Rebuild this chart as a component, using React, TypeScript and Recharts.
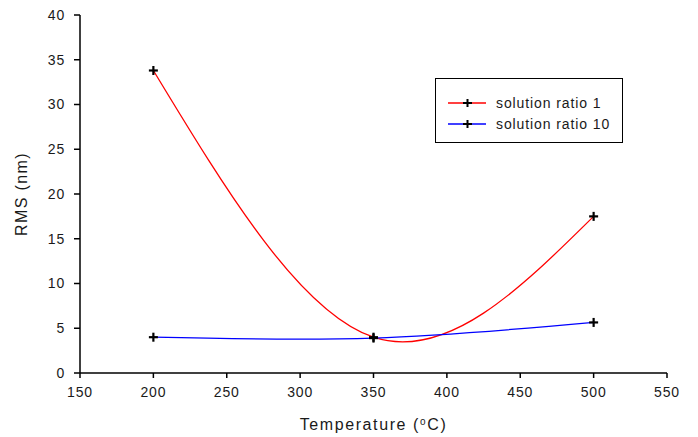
import { LineChart, Line, XAxis, YAxis } from 'recharts';

const temperatures = [200, 350, 500];
const ratio1 = [33.8, 4.0, 17.5];
const ratio10 = [4.0, 3.9, 5.65];
const xTicks = [150, 200, 250, 300, 350, 400, 450, 500, 550];
const yTicks = [0, 5, 10, 15, 20, 25, 30, 35, 40];

const seriesNames = ['solution ratio 1', 'solution ratio 10'];
const seriesColors = ['#ff0000', '#0000ff'];

const data = temperatures.map((t, i) => ({ t, r1: ratio1[i], r10: ratio10[i] }));

const FONT = '"Liberation Sans", Arial, sans-serif';
const TEXT = '#1a1a1a';

// black plus marker drawn at each data point
const PlusDot = (props: any) => {
  const { cx, cy } = props;
  if (cx == null || cy == null) return null;
  return (
    <g>
      <line x1={cx - 4.5} y1={cy} x2={cx + 4.5} y2={cy} stroke="#000" strokeWidth={2.2} />
      <line x1={cx} y1={cy - 4.5} x2={cx} y2={cy + 4.5} stroke="#000" strokeWidth={2.2} />
    </g>
  );
};

// legend box sits over the plot, it does not take space from it
const LegendBox = () => (
  <div
    style={{
      position: 'absolute',
      left: 435,
      top: 78,
      width: 188,
      height: 65,
      border: '1px solid #000',
      boxSizing: 'border-box',
      background: '#fff',
      fontFamily: FONT,
      fontSize: 14,
      letterSpacing: 0.9,
      color: TEXT,
    }}
  >
    {seriesNames.map((name, i) => (
      <div
        key={name}
        style={{ position: 'absolute', left: 0, top: 14 + i * 21, height: 20, display: 'flex', alignItems: 'center' }}
      >
        <svg width={60} height={12} style={{ display: 'block' }}>
          <line x1={12} y1={6} x2={50} y2={6} stroke={seriesColors[i]} strokeWidth={1.3} />
          <line x1={27} y1={6} x2={36} y2={6} stroke="#000" strokeWidth={2} />
          <line x1={31.5} y1={2} x2={31.5} y2={10} stroke="#000" strokeWidth={2} />
        </svg>
        <span style={{ whiteSpace: 'nowrap' }}>{name}</span>
      </div>
    ))}
  </div>
);

const XTitle = (props: any) => {
  const { viewBox } = props;
  const x = viewBox.x + viewBox.width / 2;
  const y = viewBox.y + 57;
  return (
    <text x={x} y={y} textAnchor="middle" fontFamily={FONT} fontSize={16} letterSpacing={1.6} fill={TEXT}>
      Temperature (
      <tspan baselineShift="super" fontSize={10}>o</tspan>
      <tspan>C)</tspan>
    </text>
  );
};

const YTitle = (props: any) => {
  const { viewBox } = props;
  const cy = viewBox.y + viewBox.height / 2;
  const cx = 27;
  return (
    <text
      x={cx}
      y={cy}
      textAnchor="middle"
      transform={`rotate(-90, ${cx}, ${cy})`}
      fontFamily={FONT}
      fontSize={16}
      letterSpacing={1.4}
      fill={TEXT}
    >
      RMS (nm)
    </text>
  );
};

const tickStyle = { fontSize: 14, fontFamily: FONT, fill: TEXT, letterSpacing: 0.8 };

export default function App() {
  return (
    <div style={{ position: 'absolute', left: 0, top: 0, width: 698, height: 437, background: '#fff' }}>
      <LineChart
        width={698}
        height={437}
        data={data}
        margin={{ top: 15, right: 31, left: 20, bottom: 0 }}
      >
        <XAxis
          dataKey="t"
          type="number"
          domain={[150, 550]}
          ticks={xTicks}
          interval={0}
          height={64}
          stroke="#000"
          strokeWidth={1.5}
          tickSize={5}
          tickMargin={9}
          tick={tickStyle}
          label={<XTitle />}
        />
        <YAxis
          type="number"
          domain={[0, 40]}
          ticks={yTicks}
          interval={0}
          width={60}
          stroke="#000"
          strokeWidth={1.5}
          tickSize={6}
          tickMargin={9}
          tick={tickStyle}
          label={<YTitle />}
        />
        <Line
          dataKey="r1"
          type="natural"
          stroke={seriesColors[0]}
          strokeWidth={1.3}
          dot={<PlusDot />}
          activeDot={false}
          isAnimationActive={false}
        />
        <Line
          dataKey="r10"
          type="natural"
          stroke={seriesColors[1]}
          strokeWidth={1.3}
          dot={<PlusDot />}
          activeDot={false}
          isAnimationActive={false}
        />
      </LineChart>
      <LegendBox />
    </div>
  );
}
